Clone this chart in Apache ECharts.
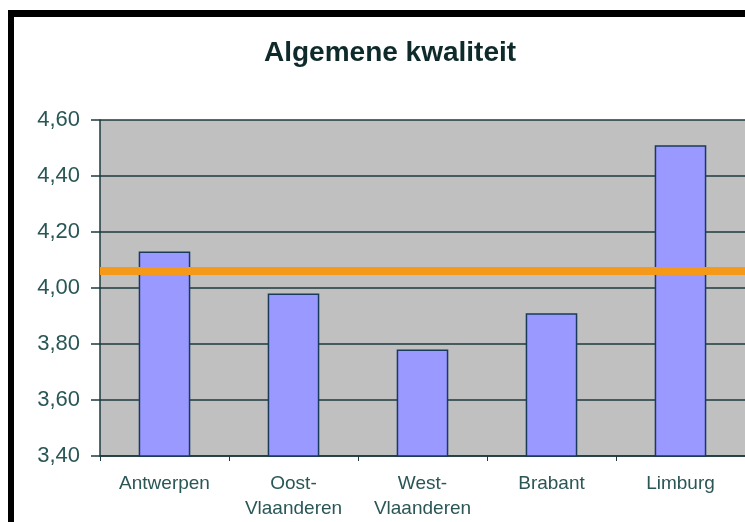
<!DOCTYPE html>
<html>
<head>
<meta charset="utf-8">
<script src="https://cdn.jsdelivr.net/npm/echarts@6/dist/echarts.min.js"></script>
<style>
  html, body { margin: 0; padding: 0; background: #fff; }
  #chart { width: 745px; height: 522px; }
</style>
</head>
<body>
<div id="chart"></div>
<script>
(function () {

    // provinces on the x axis
    var provinces = ['Antwerpen', 'Oost-\nVlaanderen', 'West-\nVlaanderen', 'Brabant', 'Limburg'];
    // average quality score per province
    var scores = [4.13, 3.98, 3.78, 3.91, 4.51];
    // overall average (orange line)
    var overall = [4.06];
    // y axis range
    var yTicks = [3.40, 3.60, 3.80, 4.00, 4.20, 4.40, 4.60];

    var labelColor = '#2a5656';
    var lineColor = '#1c3a3c';

    var myChart = echarts.init(document.getElementById('chart'));

    var option = {
        backgroundColor: '#ffffff',
        animation: false,
        title: {
            text: 'Algemene kwaliteit',
            left: 259,
            top: 34,
            textStyle: {
                fontFamily: 'Liberation Sans, Arial',
                fontWeight: 'bold',
                fontSize: 28,
                color: '#0e2a2a'
            }
        },
        graphic: [
            // black frame on top and left
            { type: 'rect', shape: { x: 8, y: 10, width: 737, height: 7 }, style: { fill: '#000' } },
            { type: 'rect', shape: { x: 8, y: 10, width: 6, height: 512 }, style: { fill: '#000' } }
        ],
        grid: {
            left: 100,
            top: 120,
            right: 0,
            bottom: 66,
            show: true,
            backgroundColor: '#c0c0c0',
            borderWidth: 0
        },
        xAxis: {
            type: 'category',
            data: provinces,
            axisLine: { lineStyle: { color: lineColor, width: 1.5 } },
            axisTick: { show: true, length: 5, lineStyle: { color: lineColor } },
            axisLabel: {
                margin: 15,
                fontFamily: 'Liberation Sans, Arial',
                fontSize: 19,
                lineHeight: 25,
                color: labelColor
            }
        },
        yAxis: {
            type: 'value',
            min: yTicks[0],
            max: yTicks[yTicks.length - 1],
            interval: 0.2,
            axisLine: { show: true, lineStyle: { color: lineColor, width: 1.5 } },
            axisTick: { show: true, length: 9, lineStyle: { color: lineColor, width: 1.5 } },
            axisLabel: {
                margin: 20,
                fontFamily: 'Liberation Sans, Arial',
                fontSize: 22,
                color: labelColor,
                formatter: function (v) {
                    return v.toFixed(2).replace('.', ',');
                }
            },
            splitLine: { show: true, lineStyle: { color: lineColor, width: 1.5 } }
        },
        series: [{
            type: 'bar',
            data: scores,
            barWidth: '40%',
            itemStyle: {
                color: '#9999ff',
                borderColor: '#1a3a5c',
                borderWidth: 1.5
            },
            z: 3,
            markLine: {
                silent: true,
                symbol: 'none',
                label: { show: false },
                lineStyle: { color: '#f59a18', width: 8, type: 'solid' },
                data: [{ yAxis: overall[0] }]
            }
        }]
    };

    myChart.setOption(option);
} ())
</script>
</body>
</html>
